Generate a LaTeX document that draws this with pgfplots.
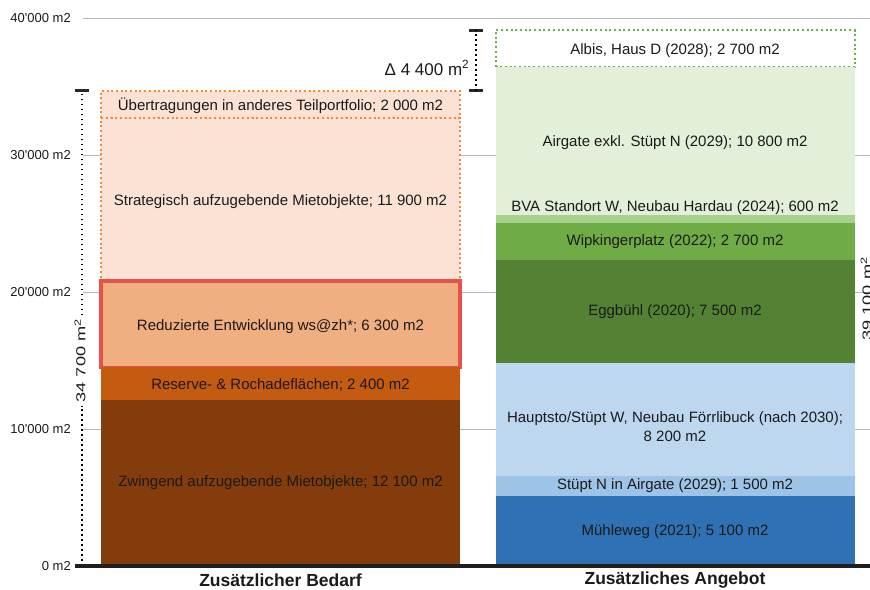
\documentclass[border=0pt]{standalone}
\usepackage{fontspec}
\setmainfont{Liberation Sans}
\usepackage{graphicx}
\usepackage{pgfplots}
\pgfplotsset{compat=1.18}
\definecolor{zwing}{HTML}{843C0C}
\definecolor{reserve}{HTML}{C55A11}
\definecolor{reduz}{HTML}{F0AF80}
\definecolor{redbox}{HTML}{E8504A}
\definecolor{strat}{HTML}{FBE2D5}
\definecolor{orangedot}{HTML}{EF8A3A}
\definecolor{muehle}{HTML}{2E72B5}
\definecolor{stueptn}{HTML}{9DC3E6}
\definecolor{haupt}{HTML}{BDD7EE}
\definecolor{eggb}{HTML}{548235}
\definecolor{wipk}{HTML}{6FAC46}
\definecolor{bva}{HTML}{A9D18E}
\definecolor{airg}{HTML}{E2EFD9}
\definecolor{greendot}{HTML}{70AD47}
\definecolor{txt}{HTML}{1A1A1A}
\newcommand{\segfont}{\fontsize{15}{19}\selectfont}
\tikzset{
  dotline/.style={black, line width=1.6pt, dash pattern=on 1.6pt off 3.4pt},
  capline/.style={black!85, line width=3.5pt},
  seg/.style={text=txt, font=\segfont},
}
\pgfplotsset{
  base/.style={scale only axis, width=787pt, height=548pt,
    xmin=83, xmax=870, ymin=0, ymax=40000, clip=false,
    ybar stacked, at={(83pt,23pt)}, anchor=south west, scaled y ticks=false,
    axis line style={draw=none}, xtick=\empty, major tick length=0pt},
}
\begin{document}
\begin{tikzpicture}[x=1pt,y=1pt]
% ---------- left bar: Zusaetzlicher Bedarf ----------
\begin{axis}[base, bar width=359,
  ytick={0,10000,20000,30000,40000},
  yticklabels={0 m2,10\textquotesingle000 m2,20\textquotesingle000 m2,30\textquotesingle000 m2,40\textquotesingle000 m2},
  yticklabel style={anchor=east, inner sep=0pt, xshift=-12pt, font=\fontsize{13}{15}\selectfont, text=txt},
  ymajorgrids, grid style={black!28, line width=0.9pt}]
\addplot[fill=zwing, draw=none] coordinates {(280.5,12100)};
\addplot[fill=reserve, draw=none] coordinates {(280.5,2400)};
\addplot[fill=reduz, draw=redbox, line width=3.5pt] coordinates {(280.5,6300)};
\addplot[fill=strat, draw=orangedot, line width=2pt, dash pattern=on 2pt off 2.7pt] coordinates {(280.5,11900)};
\addplot[fill=strat, draw=orangedot, line width=2pt, dash pattern=on 2pt off 2.7pt] coordinates {(280.5,2000)};
\coordinate (L1) at (axis cs:280.5,6050);
\coordinate (L2) at (axis cs:280.5,13200);
\coordinate (L3) at (axis cs:280.5,17500);
\coordinate (L4) at (axis cs:280.5,26600);
\coordinate (L5) at (axis cs:280.5,33600);
% bracket 34 700
\draw[dotline] (axis cs:82,0) -- (axis cs:82,11700);
\draw[dotline] (axis cs:82,18300) -- (axis cs:82,34700);
\draw[capline] (axis cs:75,34700) -- (axis cs:89,34700);
\node[inner sep=0pt, rotate=90, text=txt, font=\fontsize{13}{15}\selectfont] at (axis cs:80,15000) {\scalebox{1.4}[1]{34 700 m\textsuperscript{2}}};
\node[text=txt, font=\bfseries\fontsize{17.5}{20}\selectfont] at (axis cs:280.5,-1050) {Zusätzlicher Bedarf};
\end{axis}
% ---------- right bar: Zusaetzliches Angebot ----------
\begin{axis}[base, bar width=359, ytick=\empty]
\addplot[fill=muehle, draw=none] coordinates {(675,5100)};
\addplot[fill=stueptn, draw=none] coordinates {(675,1500)};
\addplot[fill=haupt, draw=none] coordinates {(675,8200)};
\addplot[fill=eggb, draw=none] coordinates {(675,7500)};
\addplot[fill=wipk, draw=none] coordinates {(675,2700)};
\addplot[fill=bva, draw=none] coordinates {(675,600)};
\addplot[fill=airg, draw=none] coordinates {(675,10800)};
\addplot[fill=white, draw=greendot, line width=2pt, dash pattern=on 2pt off 2.7pt] coordinates {(675,2700)};
\coordinate (R1) at (axis cs:675,2500);
\coordinate (R2) at (axis cs:675,5840);
\coordinate (R3) at (axis cs:675,10200);
\coordinate (R4) at (axis cs:675,18540);
\coordinate (R5) at (axis cs:675,23650);
\coordinate (R6) at (axis cs:675,26150);
\coordinate (R7) at (axis cs:675,30900);
\coordinate (R8) at (axis cs:675,37600);
% delta bracket
\draw[dotline] (axis cs:476,34700) -- (axis cs:476,39100);
\draw[capline] (axis cs:469,39100) -- (axis cs:483,39100);
\draw[capline] (axis cs:469,34700) -- (axis cs:483,34700);
\node[text=txt, font=\fontsize{17}{20}\selectfont] at (axis cs:427,36350) {Δ 4 400 m\textsuperscript{2}};
% total 39 100 (partly outside)
\node[inner sep=0pt, rotate=90, anchor=base, text=txt, font=\fontsize{13}{15}\selectfont] at (axis cs:871.5,19500) {\scalebox{1.4}[1]{39 100 m\textsuperscript{2}}};
\node[text=txt, font=\bfseries\fontsize{17.5}{20}\selectfont] at (axis cs:675,-1050) {Zusätzliches Angebot};
\end{axis}
\node[seg] at (L1) {Zwingend aufzugebende Mietobjekte; 12 100 m2};
\node[seg] at (L2) {Reserve- \& Rochadeflächen; 2 400 m2};
\node[seg] at (L3) {Reduzierte Entwicklung ws@zh*; 6 300 m2};
\node[seg] at (L4) {Strategisch aufzugebende Mietobjekte; 11 900 m2};
\node[seg] at (L5) {Übertragungen in anderes Teilportfolio; 2 000 m2};
\node[seg] at (R1) {Mühleweg (2021); 5 100 m2};
\node[seg] at (R2) {Stüpt N in Airgate (2029); 1 500 m2};
\node[seg, align=center] at (R3) {Hauptsto/Stüpt W, Neubau Förrlibuck (nach 2030);\\8 200 m2};
\node[seg] at (R4) {Eggbühl (2020); 7 500 m2};
\node[seg] at (R5) {Wipkingerplatz (2022); 2 700 m2};
\node[seg] at (R6) {BVA Standort W, Neubau Hardau (2024); 600 m2};
\node[seg] at (R7) {Airgate exkl. Stüpt N (2029); 10 800 m2};
\node[seg] at (R8) {Albis, Haus D (2028); 2 700 m2};
\draw[black!88, line width=3.5pt] (75,23) -- (870,23);
\pgfresetboundingbox
\path[use as bounding box] (0,0) rectangle (870,589);
\end{tikzpicture}
\end{document}
